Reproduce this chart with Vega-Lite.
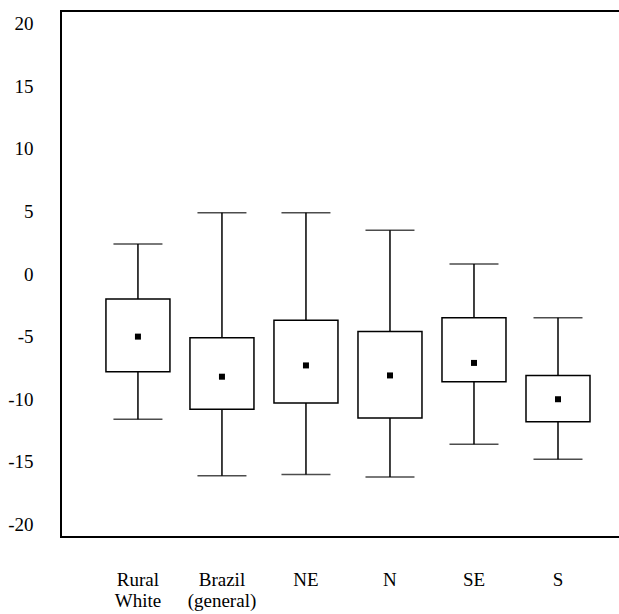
{
  "$schema": "https://vega.github.io/schema/vega-lite/v6.json",
  "autosize": {"type": "none"},
  "width": 559,
  "height": 526,
  "padding": {"left": 61, "top": 11, "right": 0, "bottom": 77},
  "background": "white",
  "config": {
    "view": {"stroke": "black", "strokeWidth": 2},
    "axis": {"labelFont": "Liberation Serif", "labelColor": "black", "labelFontSize": 19, "grid": false, "ticks": false, "domain": false}
  },
  "data": {
    "values": [
      {"group": "Rural White", "lower": -11.6, "q1": -7.8, "mean": -5.0, "q3": -2.0, "upper": 2.4},
      {"group": "Brazil (general)", "lower": -16.1, "q1": -10.8, "mean": -8.2, "q3": -5.1, "upper": 4.9},
      {"group": "NE", "lower": -16.0, "q1": -10.3, "mean": -7.3, "q3": -3.7, "upper": 4.9},
      {"group": "N", "lower": -16.2, "q1": -11.5, "mean": -8.1, "q3": -4.6, "upper": 3.5},
      {"group": "SE", "lower": -13.6, "q1": -8.6, "mean": -7.1, "q3": -3.5, "upper": 0.8},
      {"group": "S", "lower": -14.8, "q1": -11.8, "mean": -10.0, "q3": -8.1, "upper": -3.5}
    ]
  },
  "encoding": {
    "x": {
      "field": "group",
      "type": "nominal",
      "sort": null,
      "title": null,
      "scale": {"paddingInner": 0, "paddingOuter": 0.327, "align": 0.636},
      "axis": {
        "labelAngle": 0,
        "labelPadding": 33,
        "labelBaseline": "top",
        "labelLineHeight": 21,
        "labelExpr": "datum.label == 'Rural White' ? ['Rural', 'White'] : datum.label == 'Brazil (general)' ? ['Brazil', '(general)'] : datum.label"
      }
    }
  },
  "layer": [
    {
      "mark": {"type": "rule", "stroke": "black", "strokeWidth": 1.5},
      "encoding": {
        "y": {"field": "lower", "type": "quantitative", "scale": {"domain": [-21, 21], "nice": false, "zero": false}, "title": null,
              "axis": {"values": [-20, -15, -10, -5, 0, 5, 10, 15, 20], "labelPadding": 28, "labelExpr": "'' + datum.value"}},
        "y2": {"field": "upper"}
      }
    },
    {
      "mark": {"type": "bar", "size": 64, "fill": "white", "stroke": "black", "strokeWidth": 1.5},
      "encoding": {
        "y": {"field": "q1", "type": "quantitative"},
        "y2": {"field": "q3"}
      }
    },
    {
      "mark": {"type": "tick", "size": 49, "thickness": 1.5, "color": "black"},
      "encoding": {"y": {"field": "upper", "type": "quantitative"}}
    },
    {
      "mark": {"type": "tick", "size": 49, "thickness": 1.5, "color": "black"},
      "encoding": {"y": {"field": "lower", "type": "quantitative"}}
    },
    {
      "mark": {"type": "point", "shape": "square", "filled": true, "size": 36, "color": "black", "opacity": 1},
      "encoding": {"y": {"field": "mean", "type": "quantitative"}}
    }
  ]
}
